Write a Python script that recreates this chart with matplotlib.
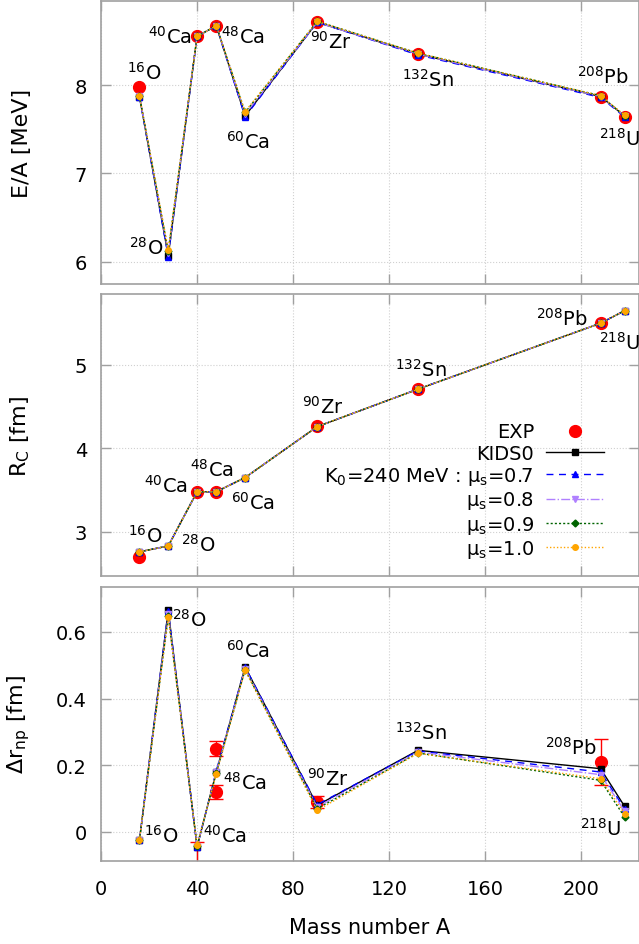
import numpy as np
import matplotlib
matplotlib.use('Agg')
import matplotlib.pyplot as plt

plt.rcParams.update({'font.family': 'DejaVu Sans', 'mathtext.fontset': 'dejavusans'})

# --- DATA ---
A = [16, 28, 40, 48, 60, 90, 132, 208, 218]
nuclei = ['$^{16}$O', '$^{28}$O', '$^{40}$Ca', '$^{48}$Ca', '$^{60}$Ca',
          '$^{90}$Zr', '$^{132}$Sn', '$^{208}$Pb', '$^{218}$U']

# binding energy per nucleon [MeV]
ea_kids0 = [7.87, 6.07, 8.55, 8.67, 7.65, 8.71, 8.35, 7.87, 7.65]
ea_mu07 = [7.87, 6.06, 8.55, 8.67, 7.64, 8.71, 8.34, 7.86, 7.64]
ea_mu08 = [7.88, 6.10, 8.55, 8.67, 7.67, 8.71, 8.35, 7.87, 7.65]
ea_mu09 = [7.88, 6.12, 8.55, 8.67, 7.69, 8.72, 8.36, 7.88, 7.65]
ea_mu10 = [7.88, 6.14, 8.55, 8.67, 7.70, 8.72, 8.36, 7.88, 7.66]
A_ea_exp = [16, 40, 48, 90, 132, 208, 218]
ea_exp = [7.98, 8.55, 8.67, 8.71, 8.35, 7.87, 7.64]

# charge radius [fm]
rc_kids0 = [2.76, 2.83, 3.48, 3.48, 3.65, 4.26, 4.71, 5.50, 5.65]
rc_mu07 = [2.76, 2.83, 3.48, 3.48, 3.65, 4.26, 4.71, 5.50, 5.65]
rc_mu08 = [2.76, 2.83, 3.48, 3.48, 3.65, 4.26, 4.71, 5.50, 5.65]
rc_mu09 = [2.76, 2.83, 3.48, 3.48, 3.65, 4.26, 4.71, 5.50, 5.65]
rc_mu10 = [2.76, 2.83, 3.48, 3.48, 3.65, 4.26, 4.71, 5.50, 5.65]
A_rc_exp = [16, 40, 48, 90, 132, 208]
rc_exp = [2.70, 3.48, 3.48, 4.27, 4.71, 5.50]

# neutron skin [fm]
dr_kids0 = [-0.025, 0.665, -0.045, 0.180, 0.495, 0.080, 0.245, 0.190, 0.077]
dr_mu07 = [-0.025, 0.663, -0.045, 0.183, 0.495, 0.082, 0.243, 0.180, 0.070]
dr_mu08 = [-0.025, 0.655, -0.043, 0.180, 0.490, 0.075, 0.240, 0.172, 0.063]
dr_mu09 = [-0.025, 0.648, -0.041, 0.177, 0.487, 0.070, 0.237, 0.155, 0.045]
dr_mu10 = [-0.025, 0.645, -0.040, 0.175, 0.485, 0.065, 0.236, 0.160, 0.055]
A_dr_exp = [40, 48, 48, 90, 208]
dr_exp = [-0.12, 0.25, 0.12, 0.09, 0.21]
dr_err = [0.09, 0.023, 0.02, 0.019, 0.07]

# label positions (data coords) for each panel
ea_lab = [(17.9, 8.15), (18.8, 6.17), (28.8, 8.56), (58.9, 8.56), (61.1, 7.37),
          (95.5, 8.50), (136, 8.07), (209, 8.10), (216, 7.40)]
rc_lab = [(18.3, 2.96), (40.4, 2.86), (27.1, 3.56), (46.2, 3.76), (63.2, 3.36),
          (92.5, 4.51), (133, 4.95), (191.8, 5.56), (216, 5.28)]
dr_lab = [(25, -0.01), (36.7, 0.64), (51.7, -0.008), (60, 0.15), (61.1, 0.545),
          (94.4, 0.163), (133, 0.30), (195.6, 0.256), (208, 0.013)]

series_style = [
    ('KIDS0', dict(color='black', ls='-', marker='s', ms=4.5)),
    ('K$_0$=240 MeV : μ$_\\mathrm{s}$=0.7', dict(color='blue', ls=(0, (5, 4)), marker='^', ms=5)),
    ('μ$_\\mathrm{s}$=0.8', dict(color='#b080ff', ls='-.', marker='v', ms=5)),
    ('μ$_\\mathrm{s}$=0.9', dict(color='darkgreen', ls=(0, (1.5, 1.5)), marker='D', ms=3.5)),
    ('μ$_\\mathrm{s}$=1.0', dict(color='orange', ls=(0, (1, 1.5)), marker='o', ms=4)),
]

fig = plt.figure(figsize=(6.39, 9.45), dpi=100)
left, right = 101 / 639, 1.0
panels = [(2, 285), (295, 577), (588, 862)]
axes = []
for top, bot in panels:
    axes.append(fig.add_axes([left, 1 - bot / 945, right - left, (bot - top) / 945]))

gray = '#a0a0a0'
for ax in axes:
    for s in ax.spines.values():
        s.set_color(gray)
        s.set_linewidth(1.2)
    ax.tick_params(direction='in', length=7, width=1, color=gray, top=True, right=True,
                   labelsize=14, pad=10)
    ax.grid(True, ls=':', color='#d0d0d0', lw=0.8)
    ax.set_xlim(0, 224)
    ax.set_xticks(range(0, 201, 40))
    ax.set_axisbelow(True)


def draw_panel(ax, models, Aexp, yexp, labels, yerr=None):
    if yerr is None:
        ax.plot(Aexp, yexp, 'o', color='red', ms=8.5, ls='none', label='EXP', zorder=2)
    else:
        ax.errorbar(Aexp, yexp, yerr=yerr, fmt='o', color='red', ms=8.5, capsize=5,
                    elinewidth=1, capthick=1, label='EXP', zorder=2)
    for (lab, st), vals in zip(series_style, models):
        ax.plot(A, vals, lw=1, label=lab, zorder=3, **st)
    for name, (x, y) in zip(nuclei, labels):
        ax.text(x, y, name, fontsize=14, ha='center', va='center')


draw_panel(axes[0], [ea_kids0, ea_mu07, ea_mu08, ea_mu09, ea_mu10], A_ea_exp, ea_exp, ea_lab)
draw_panel(axes[1], [rc_kids0, rc_mu07, rc_mu08, rc_mu09, rc_mu10], A_rc_exp, rc_exp, rc_lab)
draw_panel(axes[2], [dr_kids0, dr_mu07, dr_mu08, dr_mu09, dr_mu10], A_dr_exp, dr_exp, dr_lab, yerr=dr_err)

axes[0].set_ylim(5.75, 8.95)
axes[0].set_yticks([6, 7, 8])
axes[1].set_ylim(2.47, 5.85)
axes[1].set_yticks([3, 4, 5])
axes[2].set_ylim(-0.087, 0.735)
axes[2].set_yticks([0, 0.2, 0.4, 0.6])
axes[2].set_yticklabels(['0', '0.2', '0.4', '0.6'])

axes[0].tick_params(labelbottom=False)
axes[1].tick_params(labelbottom=False)
axes[2].tick_params(axis='x', pad=13)

axes[0].set_ylabel('E/A [MeV]', fontsize=16)
axes[1].set_ylabel('R$_\\mathrm{C}$ [fm]', fontsize=16)
axes[2].set_ylabel('$\\Delta$r$_\\mathrm{np}$ [fm]', fontsize=16)
for ax in axes:
    ax.yaxis.set_label_coords(-0.128, 0.5)
axes[2].set_xlabel('Mass number A', fontsize=15, labelpad=14)

# legend in middle panel
h, l = axes[1].get_legend_handles_labels()
axes[1].legend(h, l, loc='upper right', bbox_to_anchor=(0.935, 0.545), frameon=False,
               markerfirst=False, fontsize=14, handlelength=3.0, handletextpad=0.6,
               labelspacing=0.12, borderpad=0, borderaxespad=0)

fig.savefig('out.png', dpi=100)
